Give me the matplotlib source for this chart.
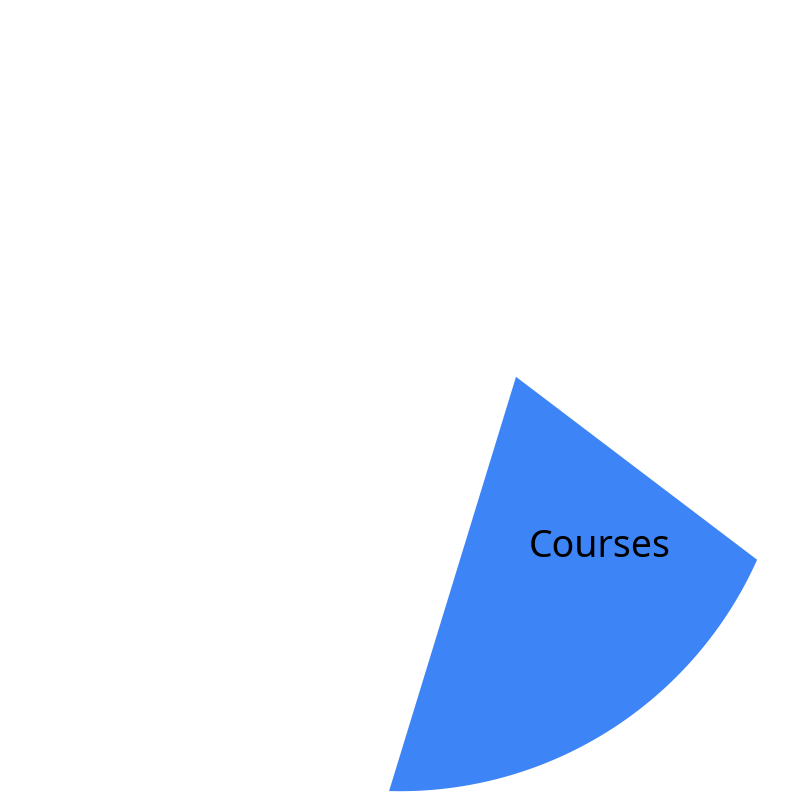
import matplotlib.pyplot as plt
import matplotlib.patches as mpatches
import numpy as np

# slice data (only "Courses" is visible in the picture, the rest is blank)
labels = ['Courses', '']
values = [18.75, 81.25]
colors = ['#3d84f6', 'none']

# layout / style
pie_radius = 0.978
start_angle = -24.1
apex_shift = (0.29, 0.058)   # the visible wedge's tip sits off the pie centre
label_pos = (0.50, -0.368)

plt.rcParams['font.family'] = ['Noto Sans', 'DejaVu Sans']

fig = plt.figure(figsize=(8, 8), dpi=100)
ax = fig.add_axes([0, 0, 1, 1])

wedges, _ = ax.pie(values, colors=colors, radius=pie_radius, startangle=start_angle,
                   counterclock=False, labels=None, frame=True,
                   wedgeprops=dict(linewidth=0))
ax.set_xlim(-1, 1)
ax.set_ylim(-1, 1)
ax.set_aspect('equal')
ax.axis('off')

# redraw the visible wedge with its tip moved
w = wedges[0]
th = np.radians(np.linspace(w.theta1, w.theta2, 200))
arc = np.column_stack([w.r * np.cos(th), w.r * np.sin(th)])
poly = np.vstack([[apex_shift], arc])
w.set_visible(False)
ax.add_patch(mpatches.Polygon(poly, closed=True, facecolor=colors[0], edgecolor='none'))

ax.text(label_pos[0], label_pos[1], labels[0], ha='center', va='center',
        fontsize=27, fontweight='medium', color='black')

fig.savefig('out.png', dpi=100)
